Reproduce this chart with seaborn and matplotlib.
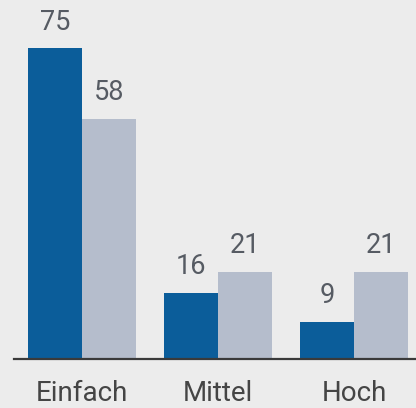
import matplotlib
matplotlib.use("Agg")
import matplotlib.pyplot as plt
import seaborn as sns
import pandas as pd

categories = ["Einfach", "Mittel", "Hoch"]
series_names = ["A", "B"]
values_a = [75, 16, 9]
values_b = [58, 21, 21]

df = pd.DataFrame({
    "cat": categories * 2,
    "series": [series_names[0]] * 3 + [series_names[1]] * 3,
    "val": values_a + values_b,
})

sns.set_style("white")
plt.rcParams["font.family"] = ["Roboto", "DejaVu Sans"]

bg = "#ececec"
W, H = 416, 408
fig = plt.figure(figsize=(W / 100, H / 100), dpi=100, facecolor=bg)
ax = fig.add_axes([14 / W, 49 / H, 402 / W, 359 / H])
ax.set_facecolor(bg)

sns.barplot(data=df, x="cat", y="val", hue="series", order=categories,
            palette=["#0b5d9a", "#b5bdcc"], width=0.8, saturation=1,
            ax=ax, legend=False, linewidth=0)

ax.set_xlim(-0.5, 2.456)
ax.set_ylim(0, 86.6)

for cont in ax.containers:
    for bar in cont:
        h = bar.get_height()
        ax.annotate(f"{int(h)}", (bar.get_x() + bar.get_width() / 2, h),
                    xytext=(0, 9), textcoords="offset points",
                    ha="center", va="bottom", fontsize=19.5, color="#565b63")

for s in ["top", "right", "left"]:
    ax.spines[s].set_visible(False)
ax.spines["bottom"].set_color("#3a3a3a")
ax.spines["bottom"].set_linewidth(1.6)
ax.set_yticks([])
ax.set_xlabel("")
ax.set_ylabel("")
ax.tick_params(axis="x", length=0, pad=15, labelsize=20, labelcolor="#454545")

fig.savefig("out.png", dpi=100, facecolor=bg)
